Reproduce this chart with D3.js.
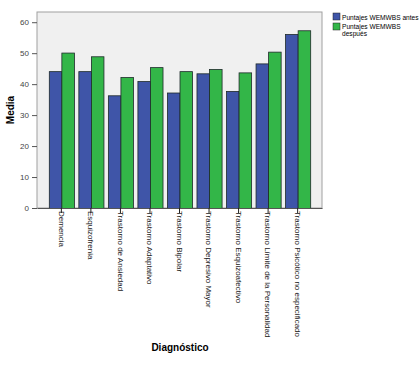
<!DOCTYPE html>
<html>
<head>
<meta charset="utf-8">
<script src="https://cdn.jsdelivr.net/npm/d3@7"></script>
<style>
  body { margin: 0; background: #fff; }
  text { font-family: Arial, "Liberation Sans", sans-serif; }
</style>
</head>
<body>
<script>
var categories = ["Demencia", "Esquizofrenia", "Trastorno de Ansiedad", "Trastorno Adaptativo",
  "Trastorno Bipolar", "Trastorno Depresivo Mayor", "Trastorno Esquizoafectivo",
  "Trastorno Límite de la Personalidad", "Trastorno Psicótico no especificado"];
var antes   = [44.2, 44.2, 36.4, 41.0, 37.3, 43.5, 37.8, 46.7, 56.2];
var despues = [50.2, 49.0, 42.3, 45.5, 44.2, 44.9, 43.8, 50.5, 57.4];
var series = ["Puntajes WEMWBS antes", "Puntajes WEMWBS después"];
var yTicks = [0, 10, 20, 30, 40, 50, 60];

var colors = ["#3f55a8", "#33b648"];
var W = 420, H = 367;
var plot = {left: 37, top: 12, right: 322, bottom: 208};

var svg = d3.select("body").append("svg")
    .attr("width", W)
    .attr("height", H);

var x = d3.scaleBand()
    .domain(categories)
    .range([plot.left, plot.right])
    .paddingOuter(0.4)
    .paddingInner(0.15);

var y = d3.scaleLinear()
    .domain([0, 63.3])
    .range([plot.bottom, plot.top]);

var xs = d3.scaleBand()
    .domain([0, 1])
    .range([0, x.bandwidth()]);

svg.append("rect")
    .attr("x", plot.left).attr("y", plot.top)
    .attr("width", plot.right - plot.left)
    .attr("height", plot.bottom - plot.top)
    .attr("fill", "#f0f0f0")
    .attr("stroke", "#a0a0a0")
    .attr("stroke-width", 1);

var groups = svg.selectAll("g.grp")
    .data(categories)
  .enter().append("g")
    .attr("class", "grp")
    .attr("transform", function(d) { return "translate(" + x(d) + ",0)"; });

groups.selectAll("rect")
    .data(function(d, i) { return [antes[i], despues[i]]; })
  .enter().append("rect")
    .attr("x", function(d, j) { return xs(j) + 0.5; })
    .attr("y", function(d) { return y(d) + 0.5; })
    .attr("width", xs.bandwidth())
    .attr("height", function(d) { return y(0) - y(d); })
    .attr("fill", function(d, j) { return colors[j]; })
    .attr("stroke", "#1e2a2a")
    .attr("stroke-width", 0.8);

// y axis
var yAxis = svg.append("g")
    .attr("transform", "translate(" + plot.left + ",0)")
    .call(d3.axisLeft(y).tickValues(yTicks).tickSize(5).tickSizeOuter(0));
yAxis.select(".domain").remove();
yAxis.selectAll("line").attr("stroke", "#555");
yAxis.selectAll("text").attr("font-size", 8).attr("fill", "#444")
    .attr("font-family", "Arial, 'Liberation Sans', sans-serif");

// x axis
var xAxis = svg.append("g")
    .attr("transform", "translate(0," + plot.bottom + ")")
    .call(d3.axisBottom(x).tickSize(5).tickSizeOuter(0));
xAxis.select(".domain").attr("stroke", "#555");
xAxis.selectAll("line").attr("stroke", "#222");
xAxis.selectAll("text")
    .attr("font-size", 8).attr("fill", "#222")
    .attr("font-family", "Arial, 'Liberation Sans', sans-serif")
    .attr("text-anchor", "start")
    .attr("transform", "rotate(90)")
    .attr("x", 3).attr("y", 0).attr("dy", "0.35em");

svg.append("text")
    .attr("transform", "translate(14," + ((plot.top + plot.bottom) / 2) + ") rotate(-90)")
    .attr("text-anchor", "middle")
    .attr("font-size", 10).attr("font-weight", "bold")
    .text("Media");

svg.append("text")
    .attr("x", 180).attr("y", 351)
    .attr("text-anchor", "middle")
    .attr("font-size", 10).attr("font-weight", "bold")
    .text("Diagnóstico");

// legend
var lg = svg.append("g").attr("transform", "translate(333,13)");
lg.append("rect").attr("x", 0).attr("y", 0).attr("width", 7).attr("height", 7)
    .attr("fill", colors[0]).attr("stroke", "#222").attr("stroke-width", 0.5);
lg.append("rect").attr("x", 0).attr("y", 10).attr("width", 7).attr("height", 7)
    .attr("fill", colors[1]).attr("stroke", "#222").attr("stroke-width", 0.5);
lg.append("text").attr("x", 9).attr("y", 6.5).attr("font-size", 6.6).text(series[0]);
lg.append("text").attr("x", 9).attr("y", 15.5).attr("font-size", 6.6).text("Puntajes WEMWBS");
lg.append("text").attr("x", 9).attr("y", 22.5).attr("font-size", 6.6).text("después");
</script>
</body>
</html>
